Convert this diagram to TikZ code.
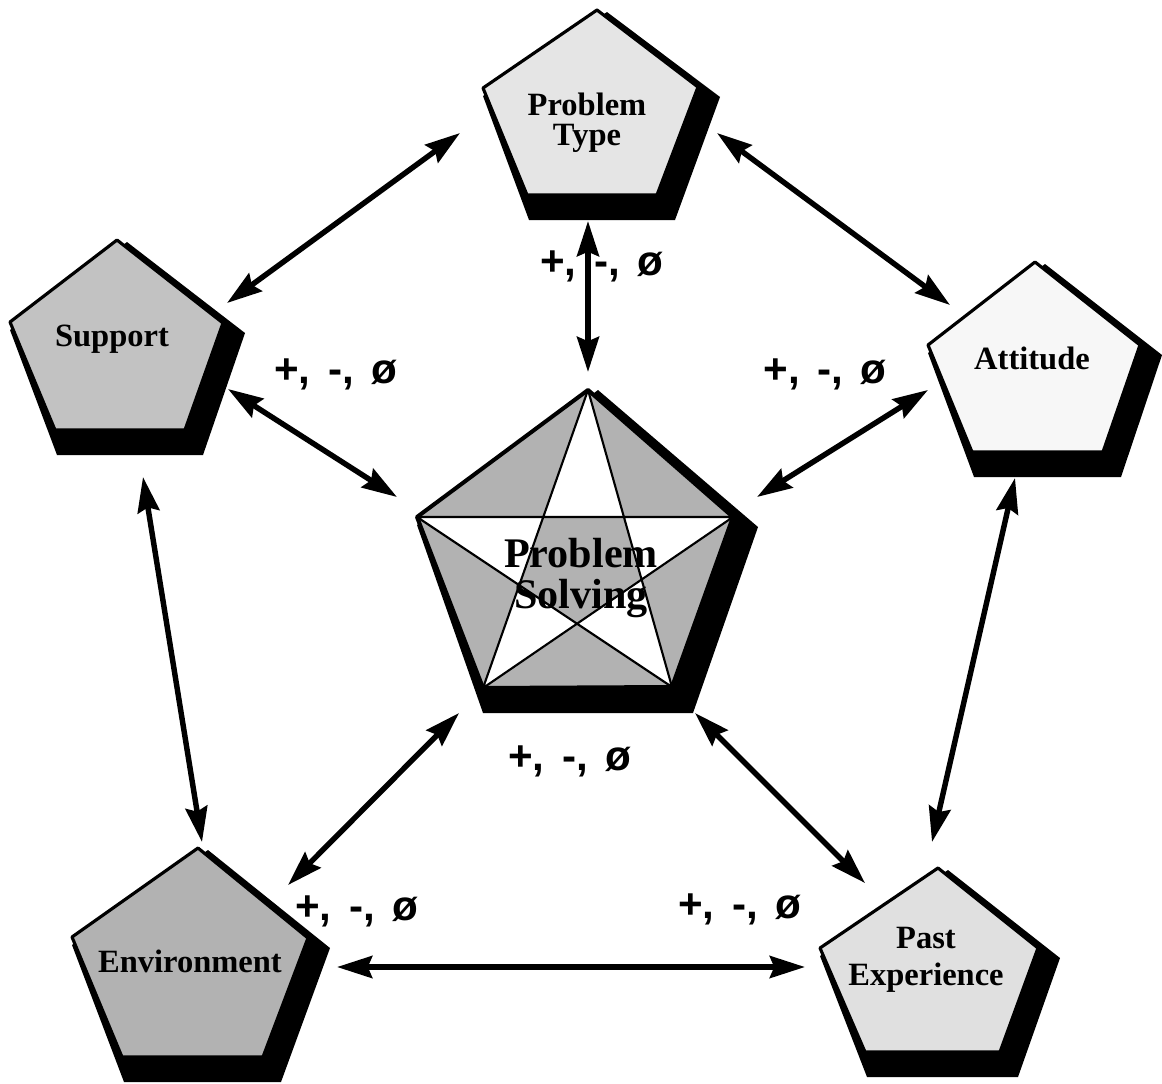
\documentclass[tikz,border=0pt]{standalone}
\usepackage{fontspec}
\setmainfont{Liberation Serif}
\newfontfamily\lblfont{Liberation Sans}
\usetikzlibrary{arrows.meta,calc}
\newcommand{\drawpent}[2]{%
  \fill[black] ($(#1-t)+(10,2)$) -- ($(#1-r)+(22,10)$) -- ($(#1-br)+(18,25)$) -- ($(#1-bl)+(2,25)$) -- ($(#1-l)+(0,8)$) -- cycle;
  \filldraw[fill=#2, pentedge] (#1-t) -- (#1-r) -- (#1-br) -- (#1-bl) -- (#1-l) -- cycle;}
\tikzset{
  pentedge/.style={draw=black, line width=1.8pt, line join=round},
  biarrow/.style={line width=3.1pt, {Stealth[length=20pt,width=12.5pt,inset=2.5pt]}-{Stealth[length=20pt,width=12.5pt,inset=2.5pt]}},
  ptext/.style={font=\bfseries\fontsize{18.5pt}{17pt}\selectfont, align=center, inner sep=0pt, anchor=base},
  bigtext/.style={font=\bfseries\fontsize{24pt}{23pt}\selectfont, align=center, inner sep=0pt, anchor=base},
  lbl/.style={font=\lblfont\bfseries\fontsize{24pt}{24pt}\selectfont, inner sep=0pt, anchor=base}
}
\newcommand{\pmo}{+,\hspace{0.42em}-,\hspace{0.42em}ø}
\begin{document}
\begin{tikzpicture}[x=0.02cm, y=-0.02cm]
\useasboundingbox (0,0) rectangle (1162,1083);
\fill[white] (0,0) rectangle (1162,1083);
% vertices
\coordinate (PT-t) at (597,10);  \coordinate (PT-r) at (698,87);  \coordinate (PT-br) at (657,195); \coordinate (PT-bl) at (527,195); \coordinate (PT-l) at (483,88);
\coordinate (SU-t) at (117,240); \coordinate (SU-r) at (223,323); \coordinate (SU-br) at (185,430); \coordinate (SU-bl) at (55,430);  \coordinate (SU-l) at (10,322);
\coordinate (AT-t) at (1035,262);\coordinate (AT-r) at (1140,345);\coordinate (AT-br) at (1103,452);\coordinate (AT-bl) at (972,452); \coordinate (AT-l) at (928,345);
\coordinate (EN-t) at (198,848); \coordinate (EN-r) at (308,938); \coordinate (EN-br) at (263,1057);\coordinate (EN-bl) at (122,1057);\coordinate (EN-l) at (72,937);
\coordinate (PE-t) at (938,868); \coordinate (PE-r) at (1038,948);\coordinate (PE-br) at (1000,1052);\coordinate (PE-bl) at (865,1052);\coordinate (PE-l) at (820,948);
\coordinate (PS-t) at (588,390); \coordinate (PS-r) at (733,517); \coordinate (PS-br) at (672,687); \coordinate (PS-bl) at (483,688); \coordinate (PS-l) at (417,517);
% outer pentagons
\drawpent{PT}{black!10}
\drawpent{SU}{black!24}
\drawpent{AT}{black!3}
\drawpent{EN}{black!30}
\drawpent{PE}{black!12}
% central pentagon with pentagram
\fill[black] ($(PS-t)+(10,0)$) -- ($(PS-r)+(25,10)$) -- ($(PS-br)+(21,26)$) -- ($(PS-bl)+(0,25)$) -- ($(PS-l)+(0,8)$) -- cycle;
\fill[black!30] (PS-t) -- (PS-r) -- (PS-br) -- (PS-bl) -- (PS-l) -- cycle;
\fill[white, even odd rule] (PS-t) -- (PS-br) -- (PS-l) -- (PS-r) -- (PS-bl) -- cycle;
\draw[line width=1.2pt, line join=round] (PS-t) -- (PS-br) -- (PS-l) -- (PS-r) -- (PS-bl) -- cycle;
\draw[line width=2.3pt, line join=round] (PS-t) -- (PS-r) -- (PS-br) -- (PS-bl) -- (PS-l) -- cycle;
% texts in pentagons (base = baseline of last line)
\node[ptext] (tPT) at (587,145) {Problem\\Type};
\node[ptext] (tSU) at (112,346) {Support};
\node[ptext] (tAT) at (1032,369) {Attitude};
\node[ptext] (tEN) at (190,972) {Environment};
\node[ptext] (tPE) at (926,985) {Past\\[4pt]Experience};
\node[bigtext] (tPS) at (581,608) {Problem\\Solving};
% arrow end points
\coordinate (a1s) at (460,133); \coordinate (a1e) at (227,303);
\coordinate (a2s) at (717,133); \coordinate (a2e) at (950,305);
\coordinate (a3s) at (588,221); \coordinate (a3e) at (588,372);
\coordinate (a4s) at (228,389); \coordinate (a4e) at (397,497);
\coordinate (a5s) at (928,390); \coordinate (a5e) at (757,497);
\coordinate (a6s) at (143,477); \coordinate (a6e) at (202,842);
\coordinate (a7s) at (1015,478);\coordinate (a7e) at (932,842);
\coordinate (a8s) at (459,713); \coordinate (a8e) at (288,885);
\coordinate (a9s) at (695,713); \coordinate (a9e) at (865,883);
\coordinate (a10s) at (337,967);\coordinate (a10e) at (805,967);
\draw[biarrow] (a1s) -- (a1e);
\draw[biarrow] (a2s) -- (a2e);
\draw[biarrow] (a3s) -- (a3e);
\draw[biarrow] (a4s) -- (a4e);
\draw[biarrow] (a5s) -- (a5e);
\draw[biarrow] (a6s) -- (a6e);
\draw[biarrow] (a7s) -- (a7e);
\draw[biarrow] (a8s) -- (a8e);
\draw[biarrow] (a9s) -- (a9e);
\draw[biarrow] (a10s) -- (a10e);
% labels
\node[lbl] (l1) at (602,275) {\pmo};
\node[lbl] (l2) at (336,383) {\pmo};
\node[lbl] (l3) at (825,383) {\pmo};
\node[lbl] (l4) at (570,770) {\pmo};
\node[lbl] (l5) at (357,920) {\pmo};
\node[lbl] (l6) at (740,918) {\pmo};
\end{tikzpicture}
\end{document}
